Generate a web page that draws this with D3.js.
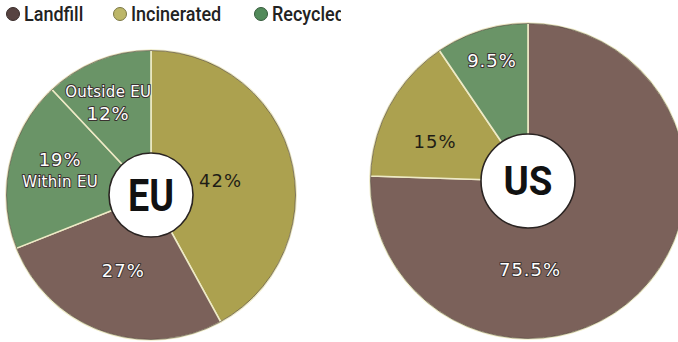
<!DOCTYPE html>
<html>
<head>
<meta charset="utf-8">
<script src="https://cdn.jsdelivr.net/npm/d3@7"></script>
<style>
  body { margin: 0; background: #fff; }
  svg { display: block; }
</style>
</head>
<body>
<svg id="chart" width="678" height="342"></svg>
<script>
// ---- data ----
const categories = ["Landfill", "Incinerated", "Recycled"];

const euSliceCategory = ["Incinerated", "Landfill", "Recycled", "Recycled"];
const euSliceNote = ["", "", "Within EU", "Outside EU"];
const euValues = [42, 27, 19, 12];

const usSliceCategory = ["Landfill", "Incinerated", "Recycled"];
const usValues = [75.5, 15, 9.5];

const regionNames = ["EU", "US"];

// ---- styling / layout ----
const colors = { Landfill: "#7b615a", Incinerated: "#aca14f", Recycled: "#6a9467" };
const legendDot = { Landfill: "#574341", Incinerated: "#bcb668", Recycled: "#528a5a" };
const darkText = { Incinerated: true };

const pies = [
  { name: regionNames[0], cats: euSliceCategory, notes: euSliceNote, values: euValues,
    cx: 151, cy: 195, r: 145, hole: 42, titleSize: 44, titleWidth: 46,
    // label anchor per slice: [angle in degrees clockwise from top, distance from centre]
    labelPos: [[78.5, 71], [200.3, 80], [284.9, 94], [335.2, 102]],
    notePlacement: [null, null, "below", "above"] },
  { name: regionNames[1], cats: usSliceCategory, notes: ["", "", ""], values: usValues,
    cx: 528, cy: 181, r: 158, hole: 47, titleSize: 40, titleWidth: 49,
    labelPos: [[178.7, 89], [293, 101], [343.4, 126]],
    notePlacement: [null, null, null] }
];

const svg = d3.select("#chart");
const labelFont = "'DejaVu Sans', 'Open Sans', sans-serif";
const headFont = "Roboto, 'Liberation Sans', sans-serif";

// ---- legend ----
svg.append("defs").append("clipPath").attr("id", "legendClip")
  .append("rect").attr("x", 0).attr("y", 0).attr("width", 341).attr("height", 40);

const legendX = d3.scaleOrdinal().domain(categories).range([13, 120, 261]);
const legend = svg.append("g").attr("clip-path", "url(#legendClip)");
const li = legend.selectAll("g").data(categories).join("g")
  .attr("transform", d => `translate(${legendX(d)},14)`);
li.append("circle").attr("r", 6.5)
  .attr("fill", d => legendDot[d])
  .attr("stroke", d => d3.color(legendDot[d]).darker(1.2))
  .attr("stroke-width", 1);
li.append("text")
  .attr("transform", "translate(11,7) scale(0.9,1)")
  .attr("font-family", headFont)
  .attr("font-weight", 500)
  .attr("font-size", 20)
  .attr("fill", "#222")
  .text(d => d);

// ---- pies ----
pies.forEach(p => {
  const g = svg.append("g").attr("transform", `translate(${p.cx},${p.cy})`);
  const arcs = d3.pie().sort(null).value(d => d)(p.values);
  const arc = d3.arc().innerRadius(0).outerRadius(p.r);

  g.selectAll("path.slice").data(arcs).join("path")
    .attr("class", "slice")
    .attr("d", arc)
    .attr("fill", (d, i) => colors[p.cats[i]])
    .attr("stroke", "#eeeac6")
    .attr("stroke-width", 1.6)
    .attr("stroke-linejoin", "round");

  // thin dark rim along the outside
  g.append("circle").attr("r", p.r - 0.5)
    .attr("fill", "none").attr("stroke", "#3b2f2b")
    .attr("stroke-opacity", 0.55).attr("stroke-width", 1);

  // centre hole
  g.append("circle").attr("r", p.hole)
    .attr("fill", "#fff").attr("stroke", "#2a2422").attr("stroke-width", 1.6);
  g.append("text")
    .attr("text-anchor", "middle")
    .attr("y", p.titleSize * 0.36)
    .attr("font-family", headFont)
    .attr("font-weight", "bold")
    .attr("font-size", p.titleSize)
    .attr("textLength", p.titleWidth)
    .attr("lengthAdjust", "spacingAndGlyphs")
    .attr("fill", "#111")
    .text(p.name);

  // slice labels
  arcs.forEach((a, i) => {
    const [deg, dist] = p.labelPos[i];
    const ang = deg * Math.PI / 180;
    const x = Math.sin(ang) * dist, y = -Math.cos(ang) * dist;
    const dark = darkText[p.cats[i]];
    const pct = d3.format("~")(p.values[i]) + "%";
    const lines = [{ t: pct, size: 18 }];
    if (p.notePlacement[i] === "below") lines.push({ t: p.notes[i], size: 15 });
    if (p.notePlacement[i] === "above") lines.unshift({ t: p.notes[i], size: 15 });
    const gap = 22;
    const y0 = y - (lines.length - 1) * gap / 2;
    lines.forEach((ln, k) => {
      g.append("text")
        .attr("x", x)
        .attr("y", y0 + k * gap + ln.size * 0.36)
        .attr("text-anchor", "middle")
        .attr("font-family", labelFont)
        .attr("font-size", ln.size)
        .attr("letter-spacing", ln.size > 16 ? 1 : 0.3)
        .attr("fill", dark ? "#1f1d16" : "#fff")
        .attr("stroke", dark ? "none" : "#3a3230")
        .attr("stroke-width", 2)
        .attr("stroke-linejoin", "round")
        .attr("paint-order", "stroke")
        .text(ln.t);
    });
  });
});
</script>
</body>
</html>
